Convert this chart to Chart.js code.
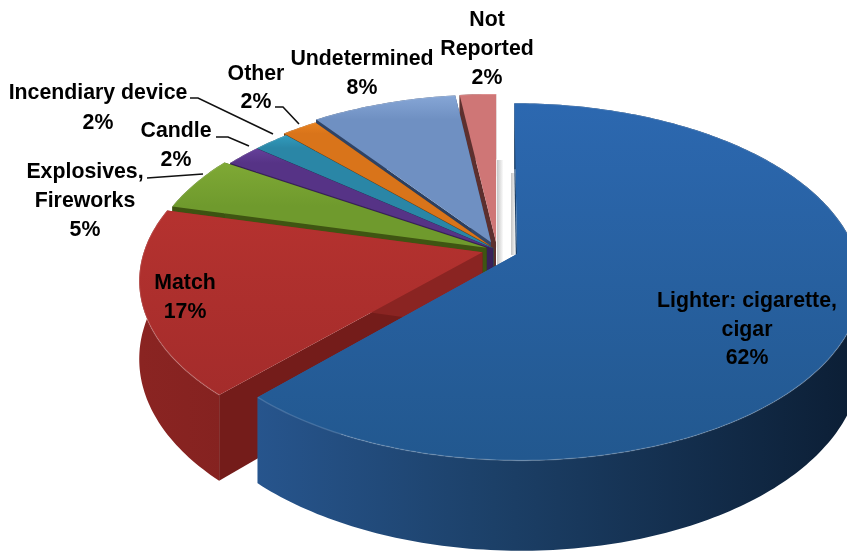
<!DOCTYPE html>
<html>
<head>
<meta charset="utf-8">
<script src="https://cdn.jsdelivr.net/npm/chart.js@4"></script>
<style>
  html, body { margin: 0; padding: 0; background: #fff; }
  #wrap { width: 847px; height: 552px; }
</style>
</head>
<body>
<div id="wrap"><canvas id="chart"></canvas></div>
<script>
const categories = ["Lighter: cigarette, cigar", "Match", "Explosives, Fireworks", "Candle", "Incendiary device", "Other", "Undetermined", "Not Reported"];
const shares = [62, 17, 5, 2, 2, 2, 8, 2];
const sliceOffsets = [17, 12, 9, 4, 4, 8, 13, 13];
const topColors = [["#2c68b0", "#22588f"], ["#b5322f", "#a42c2b"], ["#7fa935", "#6f9a2d"], ["#65409a", "#563386"], ["#319bbd", "#2a86a6"], ["#e8821f", "#d9741a"], ["#86a6d6", "#6f90c2"], ["#e28e8e", "#cf7676"]];
const wallColors = [["#2c5f9f", "#1c4068", "#0c1f36"], ["#8a2422", "#741c1a", "#5a1513"], ["#3f5512", "#33460e", "#2a3a0b"], ["#38215a", "#2e1b4a", "#26163e"], ["#175468", "#134656", "#0f3846"], ["#7d4410", "#6c3a0c", "#5a300a"], ["#33496d", "#2c3f5f", "#25354f"], ["#6e3a38", "#5c2f2e", "#4c2524"]];

// text blocks: lines are centred on x, first baseline at y, then lineGap
const labelBlocks = [
  { lines: ["Not", "Reported", "2%"], x: 487, y: 26, gap: 29 },
  { lines: ["Undetermined", "8%"], x: 362, y: 65, gap: 29 },
  { lines: ["Other", "2%"], x: 256, y: 80, gap: 28 },
  { lines: ["Incendiary device", "2%"], x: 98, y: 99, gap: 30 },
  { lines: ["Candle", "2%"], x: 176, y: 137, gap: 29 },
  { lines: ["Explosives,", "Fireworks", "5%"], x: 85, y: 178, gap: 29 },
  { lines: ["Match", "17%"], x: 185, y: 289, gap: 29 },
  { lines: ["Lighter: cigarette,", "cigar", "62%"], x: 747, y: 307, gap: 28.5 }
];
const leaders = [
  [[190, 98], [198, 98], [273, 134]],
  [[216, 137], [228, 137], [249, 146]],
  [[147, 178], [203, 174]],
  [[275, 107], [283, 107], [299, 124]]
];
// faint grey shadows in the gap behind the blue slice
const gapShadows = [[497, 160, 6, 105], [511, 173, 5, 82]];

// perspective of the pie plane
const view = { cx: 497, cy: 250, a: 338, b: 173, k: 0.155, depth: 76 };

function project(u, v, down) {
  const w = 1 - view.k * v;
  return {
    x: view.cx + view.a * u / w,
    y: view.cy + view.b * v / w + (down ? view.depth / w : 0)
  };
}

function arcPoints(s, e, ou, ov, down) {
  const pts = [];
  const n = Math.max(2, Math.ceil((e - s) / (Math.PI / 180)));
  for (let i = 0; i <= n; i++) {
    const t = s + (e - s) * i / n;
    pts.push(project(ou + Math.cos(t), ov + Math.sin(t), down));
  }
  return pts;
}

function fillPoly(ctx, pts, fill) {
  ctx.beginPath();
  pts.forEach((p, i) => i ? ctx.lineTo(p.x, p.y) : ctx.moveTo(p.x, p.y));
  ctx.closePath();
  ctx.fillStyle = fill;
  ctx.fill();
}

const pie3d = {
  id: "pie3d",
  beforeDatasetsDraw(chart) {
    const ctx = chart.ctx;
    const arcs = chart.getDatasetMeta(0).data;
    ctx.save();
    gapShadows.forEach(r => {
      const g = ctx.createLinearGradient(r[0], 0, r[0] + r[2], 0);
      g.addColorStop(0, "#c4c4c4");
      g.addColorStop(1, "#fafafa");
      ctx.fillStyle = g;
      ctx.fillRect(r[0], r[1], r[2], r[3]);
    });
    // back slices first, the big front slice last
    for (let i = arcs.length - 1; i >= 0; i--) {
      const arc = arcs[i];
      const s = arc.startAngle, e = arc.endAngle, mid = (s + e) / 2;
      const off = arc.options.offset / arc.outerRadius;
      const ou = Math.cos(mid) * off, ov = Math.sin(mid) * off;

      const apexTop = project(ou, ov, false), apexLow = project(ou, ov, true);
      const top = arcPoints(s, e, ou, ov, false);
      const low = arcPoints(s, e, ou, ov, true);

      const wall = ctx.createLinearGradient(140, 0, 847, 0);
      wall.addColorStop(0, wallColors[i][0]);
      wall.addColorStop(0.5, wallColors[i][1]);
      wall.addColorStop(1, wallColors[i][2]);

      // radial side walls
      const first = top[0], last = top[top.length - 1];
      fillPoly(ctx, [apexTop, first, low[0], apexLow], wallColors[i][1]);
      fillPoly(ctx, [apexTop, last, low[low.length - 1], apexLow], wallColors[i][0]);

      // outer rim, only the part facing the viewer shows after the tops cover it
      fillPoly(ctx, top.concat(low.slice().reverse()), wall);

      // top face
      const ys = top.map(p => p.y);
      const grad = ctx.createLinearGradient(0, Math.min(...ys), 0, Math.max(...ys));
      grad.addColorStop(0, topColors[i][0]);
      grad.addColorStop(1, topColors[i][1]);
      fillPoly(ctx, [apexTop].concat(top), grad);

      // soft bevel along the rim
      ctx.beginPath();
      top.forEach((p, j) => j ? ctx.lineTo(p.x, p.y) : ctx.moveTo(p.x, p.y));
      ctx.strokeStyle = "rgba(255,255,255,0.14)";
      ctx.lineWidth = 1.5;
      ctx.stroke();
    }
    ctx.restore();
    return false;
  },
  afterDraw(chart) {
    const ctx = chart.ctx;
    ctx.save();
    ctx.strokeStyle = "#111";
    ctx.lineWidth = 1.6;
    leaders.forEach(line => {
      ctx.beginPath();
      line.forEach((p, i) => i ? ctx.lineTo(p[0], p[1]) : ctx.moveTo(p[0], p[1]));
      ctx.stroke();
    });
    ctx.fillStyle = "#000";
    ctx.font = "bold 21.3px 'Liberation Sans'";
    ctx.textAlign = "center";
    ctx.textBaseline = "alphabetic";
    labelBlocks.forEach(b => {
      b.lines.forEach((t, i) => ctx.fillText(t, b.x, b.y + i * b.gap));
    });
    ctx.restore();
  }
};

new Chart(document.getElementById("chart"), {
  type: "pie",
  data: {
    labels: categories,
    datasets: [{ data: shares, offset: sliceOffsets, borderWidth: 0, backgroundColor: topColors.map(c => c[0]) }]
  },
  options: {
    responsive: true,
    maintainAspectRatio: false,
    animation: false,
    plugins: { legend: { display: false }, tooltip: { enabled: false } }
  },
  plugins: [pie3d]
});
</script>
</body>
</html>
